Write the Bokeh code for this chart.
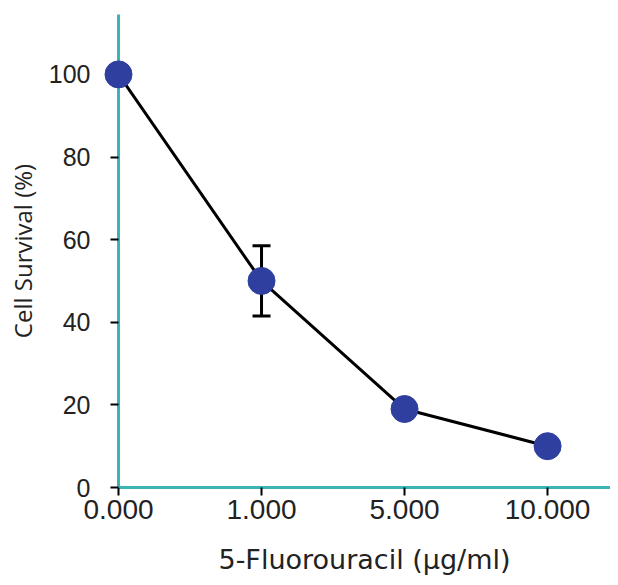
from bokeh.plotting import figure
from bokeh.models import Range1d, ColumnDataSource, Whisker, TeeHead, FixedTicker
from bokeh.embed import file_html
from bokeh.resources import INLINE

# data
doses = ["0.000", "1.000", "5.000", "10.000"]
survival = [100, 50, 19, 10]
errors = [0, 8.5, 2, 0]
y_ticks = [0, 20, 40, 60, 80, 100]

xs = list(range(len(doses)))
src = ColumnDataSource(dict(
    x=xs, y=survival,
    upper=[s + e for s, e in zip(survival, errors)],
    lower=[s - e for s, e in zip(survival, errors)],
))

TEAL = "#3BB4B8"
BLUE = "#2E3F9F"

p = figure(width=610, height=577, output_backend="svg", toolbar_location=None,
           x_range=Range1d(0, 3.44), y_range=Range1d(0, 114.5),
           min_border_left=118, min_border_right=0, min_border_top=14, min_border_bottom=90)
p.outline_line_color = None
p.grid.visible = False
p.background_fill_color = "white"
p.border_fill_color = "white"

p.line("x", "y", source=src, line_color="black", line_width=3)
w = Whisker(base="x", upper="upper", lower="lower", source=src, dimension="height",
            line_color="black", line_width=3,
            upper_head=TeeHead(size=18, line_color="black", line_width=3),
            lower_head=TeeHead(size=18, line_color="black", line_width=3))
p.add_layout(w)
r = p.scatter("x", "y", source=src, size=27, fill_color=BLUE, line_color=BLUE)
r.level = "overlay"

p.xaxis.ticker = FixedTicker(ticks=xs)
p.xaxis.major_label_overrides = {i: d for i, d in enumerate(doses)}
p.yaxis.ticker = FixedTicker(ticks=y_ticks)

for ax in (p.xaxis[0], p.yaxis[0]):
    ax.axis_line_color = TEAL
    ax.axis_line_width = 3
    ax.major_tick_line_color = "black"
    ax.major_tick_line_width = 2
    ax.major_tick_in = 0
    ax.major_tick_out = 8
    ax.minor_tick_line_color = None
    ax.major_label_text_font = "Liberation Sans"
    ax.major_label_text_color = "#222222"
    ax.axis_label_text_font_style = "normal"
    ax.axis_label_text_color = "#222222"

p.xaxis.major_label_text_font_size = "28px"
p.yaxis.major_label_text_font_size = "25px"
p.xaxis.axis_label_text_font = "DejaVu Sans"
p.xaxis.axis_label_text_font_size = "27px"
p.yaxis.axis_label_text_font = "Open Sans"
p.yaxis.axis_label_text_font_size = "24px"

p.xaxis.axis_label = "5-Fluorouracil (µg/ml)"
p.yaxis.axis_label = "Cell Survival (%)"
p.xaxis.major_label_standoff = 4
p.yaxis.major_label_standoff = 20
p.xaxis.axis_label_standoff = 22
p.yaxis.axis_label_standoff = 7

open("out.html", "w").write(file_html(p, INLINE))
